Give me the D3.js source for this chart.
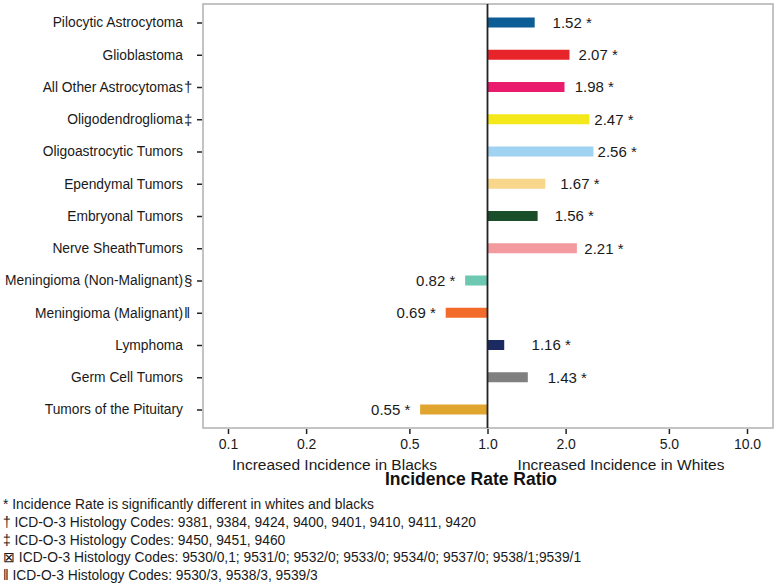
<!DOCTYPE html>
<html>
<head>
<meta charset="utf-8">
<script src="https://cdn.jsdelivr.net/npm/d3@7/dist/d3.min.js"></script>
<style>
  html, body { margin: 0; padding: 0; background: #fff; }
  svg { display: block; font-family: "Liberation Sans", Arial, Helvetica, sans-serif; }
</style>
</head>
<body>
<svg id="chart" width="777" height="583"></svg>
<script>
// ---- data ----
const categories = [
  "Pilocytic Astrocytoma",
  "Glioblastoma",
  "All Other Astrocytomas",
  "Oligodendroglioma",
  "Oligoastrocytic Tumors",
  "Ependymal Tumors",
  "Embryonal Tumors",
  "Nerve SheathTumors",
  "Meningioma (Non-Malignant)",
  "Meningioma (Malignant)",
  "Lymphoma",
  "Germ Cell Tumors",
  "Tumors of the Pituitary"
];
const footMarks = ["", "", "†", "‡", "", "", "", "", "§", "‖", "", "", ""];
const ratios = [1.52, 2.07, 1.98, 2.47, 2.56, 1.67, 1.56, 2.21, 0.82, 0.69, 1.16, 1.43, 0.55];
const significant = [true, true, true, true, true, true, true, true, true, true, true, true, true];
const barColors = ["#0c5d95", "#e8242b", "#ea1b6c", "#f5e81a", "#a0d2f1", "#f8d68c",
                   "#1a4d2a", "#f29a9e", "#6cc8b0", "#f36b2a", "#1c2a62", "#808080", "#dfa52f"];
const tickValues = [0.1, 0.2, 0.5, 1, 2, 5, 10];
const tickLabels = ["0.1", "0.2", "0.5", "1.0", "2.0", "5.0", "10.0"];
const sideLabels = ["Increased Incidence in Blacks", "Increased Incidence in Whites"];
const xTitle = "Incidence Rate Ratio";
const footnotes = [
  "* Incidence Rate is significantly different in whites and blacks",
  "† ICD-O-3 Histology Codes: 9381, 9384, 9424, 9400, 9401, 9410, 9411, 9420",
  "‡ ICD-O-3 Histology Codes: 9450, 9451, 9460",
  "⊠ ICD-O-3 Histology Codes: 9530/0,1; 9531/0; 9532/0; 9533/0; 9534/0; 9537/0; 9538/1;9539/1",
  "‖  ICD-O-3 Histology Codes: 9530/3, 9538/3, 9539/3"
];

// ---- layout ----
const panel = { left: 203, right: 773, top: 4, bottom: 428 };
const svg = d3.select("#chart");
const ink = "#1a1a1a";

const x = d3.scaleLog().domain([0.1, 10]).range([228, 747]);
const y = d3.scalePoint().domain(categories).range([22.5, 409.5]);
const barH = 10;

// panel frame
svg.append("rect")
  .attr("x", panel.left).attr("y", panel.top)
  .attr("width", panel.right - panel.left).attr("height", panel.bottom - panel.top)
  .attr("fill", "none").attr("stroke", "#b0b0b0").attr("stroke-width", 1.5);

// bars
const rows = categories.map((c, i) => ({ c, v: ratios[i], col: barColors[i], mark: footMarks[i], sig: significant[i] }));
svg.append("g").selectAll("rect").data(rows).join("rect")
  .attr("x", d => Math.min(x(1), x(d.v)))
  .attr("width", d => Math.abs(x(d.v) - x(1)))
  .attr("y", d => y(d.c) - barH / 2)
  .attr("height", barH)
  .attr("fill", d => d.col);

// reference line at 1.0
svg.append("line")
  .attr("x1", x(1)).attr("x2", x(1))
  .attr("y1", panel.top).attr("y2", panel.bottom)
  .attr("stroke", "#222").attr("stroke-width", 1.8);

// value labels
svg.append("g").selectAll("text").data(rows).join("text")
  .attr("x", d => d.v > 1 ? x(d.v + 0.6) : x(d.v * 0.77))
  .attr("y", d => y(d.c))
  .attr("dy", "0.36em")
  .attr("text-anchor", "middle")
  .attr("font-size", 15)
  .attr("fill", ink)
  .text(d => d3.format(".2f")(d.v) + (d.sig ? " *" : ""));

// y axis ticks
const yAxis = svg.append("g")
  .attr("transform", `translate(${panel.left - 1},0)`)
  .call(d3.axisLeft(y).tickSize(5).tickFormat(""));
yAxis.select(".domain").remove();
yAxis.selectAll("line").attr("stroke", "#222").attr("stroke-width", 1.5);

// category labels
const labG = svg.append("g").attr("font-size", 13.8).attr("fill", ink);
labG.selectAll("text.cat").data(rows).join("text").attr("class", "cat")
  .attr("x", 183).attr("y", d => y(d.c)).attr("dy", "0.35em")
  .attr("text-anchor", "end").text(d => d.c);
labG.selectAll("text.mark").data(rows.filter(d => d.mark)).join("text").attr("class", "mark")
  .attr("x", 184).attr("y", d => y(d.c)).attr("dy", "0.35em")
  .attr("text-anchor", "start").attr("font-size", 15).text(d => d.mark);

// x axis
const xAxis = svg.append("g")
  .attr("transform", `translate(0,${panel.bottom + 1})`)
  .call(d3.axisBottom(x).tickValues(tickValues).tickSize(5).tickPadding(5)
        .tickFormat((d, i) => tickLabels[i]));
xAxis.select(".domain").remove();
xAxis.selectAll("line").attr("stroke", "#222").attr("stroke-width", 1.5);
xAxis.selectAll("text").attr("font-size", 14).attr("fill", ink)
  .attr("font-family", "'Liberation Sans', Arial, sans-serif");

// side labels & title
svg.append("text").attr("x", 334.5).attr("y", 470).attr("text-anchor", "middle")
  .attr("font-size", 15.5).attr("fill", ink).text(sideLabels[0]);
svg.append("text").attr("x", 621).attr("y", 470).attr("text-anchor", "middle")
  .attr("font-size", 15.5).attr("fill", ink).text(sideLabels[1]);
svg.append("text").attr("x", 471).attr("y", 485).attr("text-anchor", "middle")
  .attr("font-size", 17.5).attr("font-weight", "bold").attr("fill", "#111").text(xTitle);

// footnotes
svg.append("g").attr("font-size", 13.8).attr("fill", ink)
  .selectAll("text").data(footnotes).join("text")
  .attr("x", 3).attr("y", (d, i) => 509 + i * 17.8)
  .text(d => d);
</script>
</body>
</html>
